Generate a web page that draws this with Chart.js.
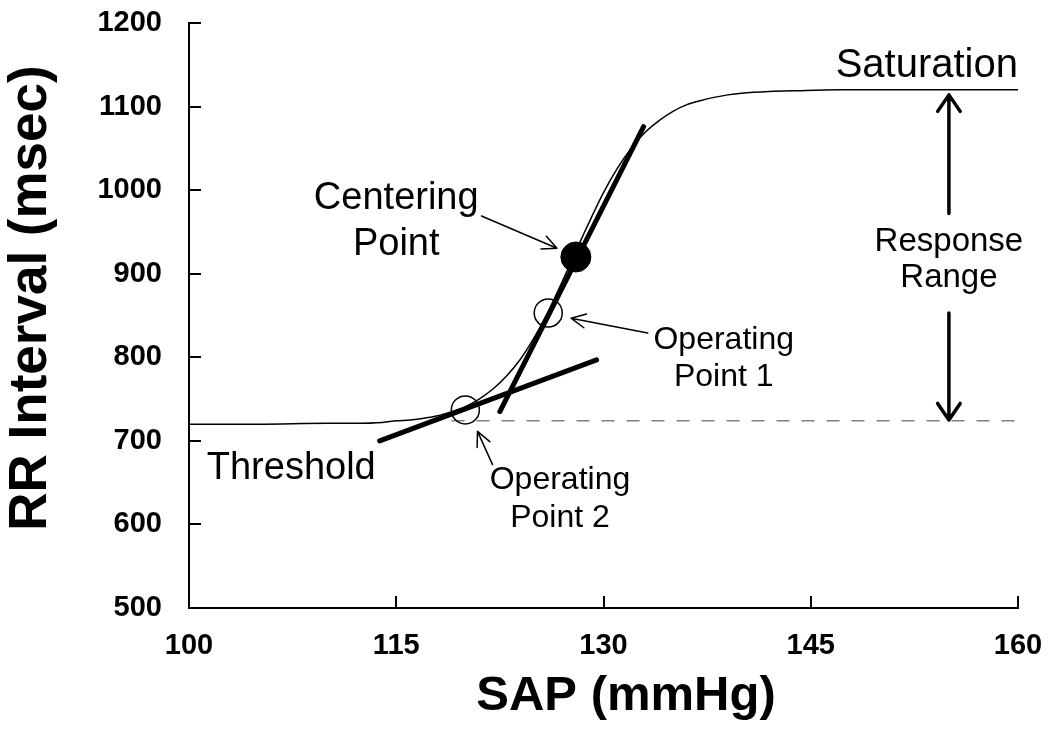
<!DOCTYPE html>
<html>
<head>
<meta charset="utf-8">
<title>Baroreflex curve</title>
<script src="https://cdn.jsdelivr.net/npm/chart.js@4.4.1/dist/chart.umd.min.js"></script>
<style>
  body { margin: 0; background: #fff; }
  canvas { display: block; }
</style>
</head>
<body>
<canvas id="baroChart" width="1050" height="733"></canvas>
<script>
// sigmoid
const sapValues = [100, 105, 110, 112, 114, 115, 116, 117, 118, 119, 120, 121, 122, 123, 124, 125, 126, 127, 128, 129, 130, 131, 132, 133, 134, 135, 136, 137, 138, 139, 140, 142, 144, 147, 150, 155, 160];
const rrValues = [720, 720, 721, 721, 722, 724, 725, 727, 730, 735, 741, 750, 762, 778, 798, 824, 855, 890, 927, 963, 997, 1026, 1050, 1069, 1083, 1094, 1102, 1107, 1111, 1114, 1116, 1118, 1119, 1120, 1120, 1120, 1120];

const steepTangentX = [122.5, 132.9];
const steepTangentY = [735, 1076];
const shallowTangentX = [113.8, 129.5];
const shallowTangentY = [700, 797];

const thresholdX = [119, 160];
const thresholdY = [724, 724];

const operatingX = [126.0, 120.0];
const operatingY = [853, 737];
const centeringX = [128.0];
const centeringY = [920];

const xTicks = [100, 115, 130, 145, 160];
const yTicks = [500, 600, 700, 800, 900, 1000, 1100, 1200];

const FONT = "'Liberation Sans', Arial, sans-serif";

const toPoints = (xs, ys) => xs.map((v, i) => ({ x: v, y: ys[i] }));

// annotation arrows, in data units: [x1, y1, x2, y2], head at the second end
const thinArrows = [
  [121.17, 969, 126.63, 930.5],
  [133.2, 829, 127.65, 846.8],
  [121.97, 671.6, 120.88, 711.3]
];
const rangeArrows = [
  [155, 972, 155, 1114],
  [155, 853, 155, 725]
];

const textLabels = [
  { lines: ["Saturation"], x: 160, y: 1135, align: "right", size: 40 },
  { lines: ["Centering", "Point"], x: 115.0, y: 977.4, align: "center", size: 38, gap: 46 },
  { lines: ["Threshold"], x: 107.4, y: 654.5, align: "center", size: 38 },
  { lines: ["Operating", "Point 1"], x: 138.7, y: 810, align: "center", size: 32, gap: 37 },
  { lines: ["Operating", "Point 2"], x: 126.85, y: 642.5, align: "center", size: 32, gap: 38 },
  { lines: ["Response", "Range"], x: 155.0, y: 927, align: "center", size: 33, gap: 36 }
];

function drawArrow(ctx, x1, y1, x2, y2, width, headLen, headAngle) {
  const ang = Math.atan2(y2 - y1, x2 - x1);
  ctx.save();
  ctx.strokeStyle = "#000";
  ctx.lineWidth = width;
  ctx.lineCap = "round";
  ctx.lineJoin = "round";
  ctx.beginPath();
  ctx.moveTo(x1, y1);
  ctx.lineTo(x2, y2);
  ctx.moveTo(x2 - headLen * Math.cos(ang - headAngle), y2 - headLen * Math.sin(ang - headAngle));
  ctx.lineTo(x2, y2);
  ctx.lineTo(x2 - headLen * Math.cos(ang + headAngle), y2 - headLen * Math.sin(ang + headAngle));
  ctx.stroke();
  ctx.restore();
}

const annotationPlugin = {
  id: "annotations",
  afterDatasetsDraw(chart) {
    const { ctx, scales: { x, y } } = chart;

    thinArrows.forEach(a => {
      drawArrow(ctx, x.getPixelForValue(a[0]), y.getPixelForValue(a[1]),
        x.getPixelForValue(a[2]), y.getPixelForValue(a[3]), 1.5, 16, 0.45);
    });
    rangeArrows.forEach(a => {
      drawArrow(ctx, x.getPixelForValue(a[0]), y.getPixelForValue(a[1]),
        x.getPixelForValue(a[2]), y.getPixelForValue(a[3]), 3.5, 20, 0.6);
    });

    ctx.save();
    ctx.fillStyle = "#000";
    ctx.textBaseline = "alphabetic";
    textLabels.forEach(l => {
      ctx.font = l.size + "px " + FONT;
      ctx.textAlign = l.align;
      const px = x.getPixelForValue(l.x);
      const py = y.getPixelForValue(l.y);
      l.lines.forEach((line, i) => ctx.fillText(line, px, py + i * (l.gap || 0)));
    });
    ctx.restore();
  },
  afterDraw(chart) {
    const { ctx, chartArea, scales: { x, y } } = chart;
    ctx.save();
    ctx.strokeStyle = "#000";
    ctx.lineWidth = 2;
    ctx.beginPath();
    // inward tick marks
    y.ticks.forEach(t => {
      const py = Math.round(y.getPixelForValue(t.value));
      ctx.moveTo(chartArea.left, py);
      ctx.lineTo(chartArea.left + 12, py);
    });
    x.ticks.forEach(t => {
      const px = Math.round(x.getPixelForValue(t.value));
      ctx.moveTo(px, chartArea.bottom);
      ctx.lineTo(px, chartArea.bottom - 12);
    });
    ctx.stroke();

    // axis titles
    ctx.fillStyle = "#000";
    ctx.textAlign = "center";
    ctx.textBaseline = "alphabetic";
    ctx.font = "bold 49px " + FONT;
    ctx.fillText("SAP (mmHg)", 626, 710);
    ctx.font = "bold 53px " + FONT;
    ctx.translate(46, 298);
    ctx.rotate(-Math.PI / 2);
    ctx.fillText("RR Interval (msec)", 0, 0);
    ctx.restore();
  }
};

const tickFont = { family: FONT, size: 29, weight: "bold" };

new Chart(document.getElementById("baroChart").getContext("2d"), {
  type: "line",
  data: {
    datasets: [
      {
        label: "Centering point",
        data: toPoints(centeringX, centeringY),
        showLine: false,
        pointRadius: 15,
        pointBackgroundColor: "#000",
        pointBorderColor: "#000",
        pointBorderWidth: 1
      },
      {
        label: "Operating points",
        data: toPoints(operatingX, operatingY),
        showLine: false,
        pointRadius: 14,
        pointBackgroundColor: "rgba(0,0,0,0)",
        pointBorderColor: "#000",
        pointBorderWidth: 1.5
      },
      {
        label: "Steep tangent",
        data: toPoints(steepTangentX, steepTangentY),
        borderColor: "#000",
        borderWidth: 5,
        borderCapStyle: "round",
        pointRadius: 0
      },
      {
        label: "Shallow tangent",
        data: toPoints(shallowTangentX, shallowTangentY),
        borderColor: "#000",
        borderWidth: 5,
        borderCapStyle: "round",
        pointRadius: 0
      },
      {
        label: "Threshold",
        data: toPoints(thresholdX, thresholdY),
        borderColor: "#808080",
        borderWidth: 1.5,
        borderDash: [13, 12],
        pointRadius: 0
      },
      {
        label: "RR vs SAP",
        data: toPoints(sapValues, rrValues),
        borderColor: "#000",
        borderWidth: 1.5,
        cubicInterpolationMode: "monotone",
        pointRadius: 0
      }
    ]
  },
  options: {
    responsive: false,
    animation: false,
    layout: { padding: { top: 23, right: 32, left: 0, bottom: 0 } },
    plugins: { legend: { display: false }, tooltip: { enabled: false } },
    scales: {
      x: {
        type: "linear",
        min: 100,
        max: 160,
        afterBuildTicks: s => { s.ticks = xTicks.map(v => ({ value: v })); },
        afterFit: s => { s.height = 125; s.paddingLeft = 0; s.paddingRight = 0; },
        ticks: { font: tickFont, color: "#000", padding: 21, callback: v => String(v) },
        grid: { drawOnChartArea: false, drawTicks: false },
        border: { color: "#000", width: 2 }
      },
      y: {
        type: "linear",
        min: 500,
        max: 1200,
        afterBuildTicks: s => { s.ticks = yTicks.map(v => ({ value: v })); },
        afterFit: s => { s.width = 189; s.paddingTop = 0; s.paddingBottom = 0; },
        ticks: { font: tickFont, color: "#000", padding: 27, callback: v => String(v) },
        grid: { drawOnChartArea: false, drawTicks: false },
        border: { color: "#000", width: 2 }
      }
    }
  },
  plugins: [annotationPlugin]
});
</script>
</body>
</html>
